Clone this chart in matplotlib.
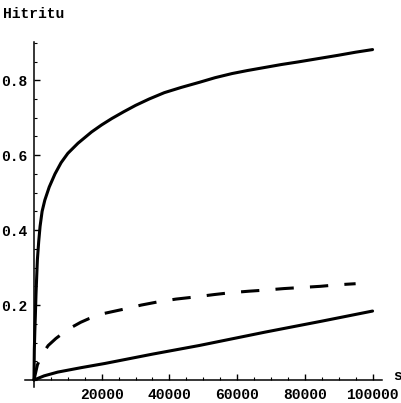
import numpy as np
import matplotlib
matplotlib.use('Agg')
import matplotlib.pyplot as plt
from matplotlib.ticker import MultipleLocator

plt.rcParams['font.family'] = 'Liberation Mono'

# upper solid curve
s_top = [0, 100, 250, 400, 600, 1000, 1400, 1800, 2400, 3200, 4500, 6200, 8000,
         10000, 13000, 17000, 20000, 23000, 26500, 30000, 34000, 38500, 43500,
         49000, 53500, 58500, 63000, 68000, 73000, 78000, 84000, 90000, 95000, 100000]
h_top = [0, 0.08, 0.13, 0.17, 0.23, 0.32, 0.37, 0.41, 0.45, 0.48, 0.515, 0.55, 0.58,
         0.605, 0.632, 0.662, 0.681, 0.698, 0.716, 0.733, 0.75, 0.767, 0.781,
         0.795, 0.807, 0.818, 0.826, 0.834, 0.842, 0.849, 0.858, 0.867, 0.875, 0.882]

# dashed curve
s_dash = [0, 1000, 2300, 4200, 6500, 9000, 11400, 13800, 16300, 20900, 26500, 31700,
          36900, 42000, 48000, 53200, 58100, 63500, 68400, 73800, 79200, 84600,
          89500, 95000]
h_dash = [0, 0.04, 0.067, 0.092, 0.111, 0.128, 0.142, 0.154, 0.164, 0.178, 0.189, 0.2,
          0.209, 0.216, 0.222, 0.228, 0.233, 0.237, 0.24, 0.244, 0.247, 0.25,
          0.254, 0.257]

# lower straight-ish line
s_low = [0, 3000, 7000, 14000, 20900, 35000, 48800, 68400, 85000, 100000]
h_low = [0, 0.011, 0.021, 0.033, 0.044, 0.069, 0.092, 0.128, 0.157, 0.184]

xticks = [20000, 40000, 60000, 80000, 100000]
yticks = [0.2, 0.4, 0.6, 0.8]

fig = plt.figure(figsize=(4.02, 4.03), dpi=100)
ax = fig.add_axes([0.0622, 0.0404, 0.8873, 0.8561])

lw = 2.2
ax.plot(s_top, h_top, color='black', lw=lw, solid_capstyle='round', solid_joinstyle='round')
ax.plot(s_dash, h_dash, color='black', lw=lw, dashes=(6, 5.3), dash_capstyle='butt')
ax.plot(s_low, h_low, color='black', lw=lw, solid_capstyle='round')

ax.set_xlim(-2650, 102700)
ax.set_ylim(-0.018, 0.903)

for side in ['top', 'right']:
    ax.spines[side].set_visible(False)
ax.spines['left'].set_position(('data', 0))
ax.spines['bottom'].set_position(('data', 0))
ax.spines['left'].set_linewidth(1.1)
ax.spines['bottom'].set_linewidth(1.1)

ax.set_xticks(xticks)
ax.set_xticklabels([str(v) for v in xticks])
ax.set_yticks(yticks)
ax.set_yticklabels([str(v) for v in yticks])
ax.xaxis.set_minor_locator(MultipleLocator(5000))
ax.yaxis.set_minor_locator(MultipleLocator(0.05))
ax.tick_params(which='major', direction='in', length=4, width=1, labelsize=10.5)
ax.tick_params(which='minor', direction='in', length=2, width=0.8)
ax.tick_params(axis='x', pad=6)
ax.tick_params(axis='y', pad=5)
for lab in ax.get_xticklabels() + ax.get_yticklabels():
    lab.set_fontweight('bold')

fig.text(0.008, 0.965, 'Hitritu', fontsize=10.5, va='center', ha='left', fontweight='bold')
fig.text(0.978, 0.067, 's', fontsize=10.5, va='center', ha='left', fontweight='bold')

fig.savefig('out.png', dpi=100)
